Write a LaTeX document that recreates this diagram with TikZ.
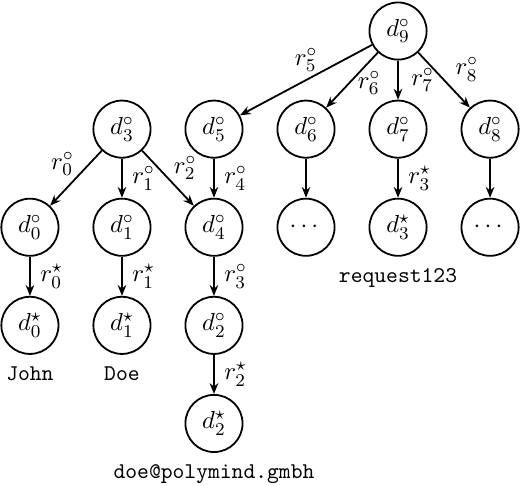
\documentclass[tikz,border=0pt]{standalone}
\usepackage{amsmath,amssymb}
\usetikzlibrary{positioning,arrows.meta}

\begin{document}
\begin{tikzpicture}[>={Stealth[length=4.8pt,width=3.8pt]}, node distance=43.6pt and 40.9pt, on grid, auto,
    font=\fontsize{11}{13}\selectfont,
    doc/.style={circle, draw, thick, minimum size=25.4pt, inner sep=0pt},
    val/.style={font=\normalsize\ttfamily, text height=1.5ex, text depth=.25ex},
    rel/.style={inner sep=4.2pt},
    diag/.style={inner sep=.6pt}]
    \useasboundingbox (0,0) rectangle (231.1pt,-215.6pt);

    \node[doc] (d9) at (176.9pt,-13.8pt) {$d_9^\circ$};
    \node[doc, below=of d9] (d7) {$d_7^\circ$};
    \node[doc, left=of d7] (d6) {$d_6^\circ$};
    \node[doc, right=of d7] (d8) {$d_8^\circ$};
    \node[doc, left=of d6] (d5) {$d_5^\circ$};
    \node[doc, left=of d5] (d3) {$d_3^\circ$};

    \node[doc, below=of d3] (d1) {$d_1^\circ$};
    \node[doc, left=of d1] (d0) {$d_0^\circ$};
    \node[doc, below=of d5] (d4) {$d_4^\circ$};
    \node[doc, below=of d6] (m6) {$\cdots$};
    \node[doc, below=of d7] (d3s) {$d_3^\star$};
    \node[doc, below=of d8] (m8) {$\cdots$};

    \node[doc, below=of d0] (d0s) {$d_0^\star$};
    \node[doc, below=of d1] (d1s) {$d_1^\star$};
    \node[doc, below=of d4] (d2) {$d_2^\circ$};
    \node[doc, below=of d2] (d2s) {$d_2^\star$};

    % literal values
    \node[val, below=21.8pt of d0s] (john) {John};
    \node[val, below=21.8pt of d1s] (doe) {Doe};
    \node[val, below=21.8pt of d3s] (req) {request123};
    \node[val, below=21.8pt of d2s] (mail) {doe@polymind.gmbh};

    \path[->, thick]
      (d9) edge node[above] {$r_5^\circ$} (d5)
      (d9) edge node[right, pos=.55] {$r_6^\circ$} (d6)
      (d9) edge node[rel, inner sep=5.5pt] {$r_7^\circ$} (d7)
      (d9) edge node[diag, inner sep=2pt, pos=.62] {$r_8^\circ$} (d8)
      (d3) edge node[diag, swap] {$r_0^\circ$} (d0)
      (d3) edge node[rel] {$r_1^\circ$} (d1)
      (d3) edge node[diag, pos=.57] {$r_2^\circ$} (d4)
      (d5) edge node[rel] {$r_4^\circ$} (d4)
      (d6) edge (m6)
      (d7) edge node[rel] {$r_3^\star$} (d3s)
      (d8) edge (m8)
      (d0) edge node[rel] {$r_0^\star$} (d0s)
      (d1) edge node[rel] {$r_1^\star$} (d1s)
      (d4) edge node[rel] {$r_3^\circ$} (d2)
      (d2) edge node[rel] {$r_2^\star$} (d2s);
\end{tikzpicture}
\end{document}
